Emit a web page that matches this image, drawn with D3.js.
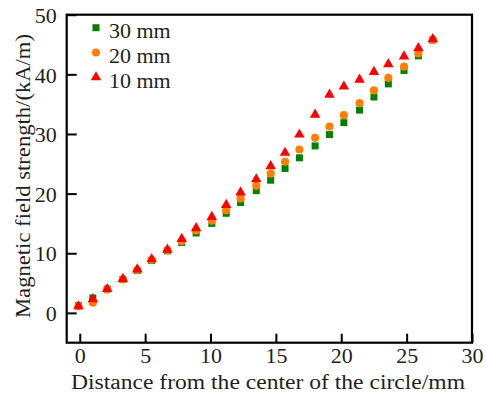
<!DOCTYPE html>
<html><head><meta charset="utf-8">
<script src="https://cdn.jsdelivr.net/npm/d3@7"></script>
<style>body{margin:0;background:#fff}</style>
</head><body>
<svg id="c" width="486" height="395"></svg>
<script>
const distance = [-0.1, 1.0, 2.1, 3.3, 4.4, 5.5, 6.7, 7.8, 8.9, 10.1, 11.2, 12.3, 13.5, 14.6, 15.7, 16.8, 18.0, 19.1, 20.2, 21.4, 22.5, 23.6, 24.8, 25.9, 27.0];
const h30 = [1.2, 2.5, 4.0, 5.6, 7.1, 8.8, 10.4, 11.8, 13.4, 15.0, 16.7, 18.5, 20.5, 22.25, 24.2, 26.0, 28.0, 29.9, 31.9, 34.0, 36.2, 38.4, 40.65, 43.1, 45.75];
const h20 = [1.1, 1.7, 3.9, 5.6, 7.2, 8.9, 10.5, 12.0, 13.8, 15.45, 17.2, 19.2, 21.3, 23.35, 25.35, 27.4, 29.35, 31.25, 33.15, 35.2, 37.3, 39.4, 41.3, 43.5, 45.8];
const h10 = [1.1, 2.3, 4.0, 5.7, 7.3, 9.0, 10.6, 12.4, 14.2, 16.1, 18.1, 20.2, 22.4, 24.6, 26.85, 29.9, 33.25, 36.6, 37.95, 39.1, 40.4, 41.7, 43.0, 44.4, 45.9];
const seriesNames = ["30 mm", "20 mm", "10 mm"];
const xTicks = [0, 5, 10, 15, 20, 25, 30];
const yTicks = [0, 10, 20, 30, 40, 50];
const xTitle = "Distance from the center of the circle/mm";
const yTitle = "Magnetic field strength/(kA/m)";

const FONT = "'Liberation Serif', 'DejaVu Serif', 'Times New Roman', serif";
const INK = "#231f20";
const svg = d3.select("#c");
const L = 66.7, R = 472, T = 14.7, B = 342.7;
const x = d3.scaleLinear().domain([-1, 30]).range([L, R]);
const y = d3.scaleLinear().domain([-5, 50]).range([B, T]);

const series = [
  {name: seriesNames[0], vals: h30, color: "#008000", shape: "square"},
  {name: seriesNames[1], vals: h20, color: "#ff8000", shape: "circle"},
  {name: seriesNames[2], vals: h10, color: "#ff0000", shape: "triangle"}
];
const sym = {
  square: d3.symbol().type(d3.symbolSquare).size(49),
  circle: d3.symbol().type(d3.symbolCircle).size(52),
  triangle: d3.symbol().type(d3.symbolTriangle).size(48)
};

// axes
const xAxis = d3.axisBottom(x).tickValues(xTicks).tickSizeInner(-9).tickSizeOuter(0).tickPadding(4);
const yAxis = d3.axisLeft(y).tickValues(yTicks).tickSizeInner(-10).tickSizeOuter(0).tickPadding(10);
const gx = svg.append("g").attr("transform", `translate(0,${B})`).call(xAxis);
const gy = svg.append("g").attr("transform", `translate(${L},0)`).call(yAxis);
[gx, gy].forEach(g => {
  g.attr("font-family", null).attr("font-size", null);
  g.select(".domain").remove();
  g.selectAll(".tick line").attr("stroke", "#000").attr("stroke-width", 2);
  g.selectAll(".tick text").style("font-family", FONT).style("font-size", "22px").attr("fill", INK);
});
gx.selectAll(".tick text").attr("dy", "0.72em");
gy.selectAll(".tick text").attr("dy", "0.35em");

svg.append("rect").attr("x", L).attr("y", T).attr("width", R - L).attr("height", B - T)
  .attr("fill", "none").attr("stroke", "#000").attr("stroke-width", 2.2);

// points
series.forEach(s => {
  svg.append("g").selectAll("path").data(s.vals).join("path")
    .attr("d", sym[s.shape])
    .attr("transform", (d, i) => `translate(${x(distance[i])},${y(d)})`)
    .attr("fill", s.color);
});

// legend
const lg = svg.append("g");
series.forEach((s, i) => {
  const cy = 27.7 + i * 24.8;
  lg.append("path").attr("d", sym[s.shape]).attr("transform", `translate(96,${cy})`).attr("fill", s.color);
  lg.append("text").attr("x", 109).attr("y", cy + 10.5)
    .style("font-family", FONT).style("font-size", "22px").attr("fill", INK).text(s.name);
});

// titles
svg.append("text").attr("x", 268).attr("y", 389).attr("text-anchor", "middle")
  .style("font-family", FONT).style("font-size", "20px").attr("fill", INK)
  .attr("textLength", 394).attr("lengthAdjust", "spacingAndGlyphs").text(xTitle);
svg.append("text").attr("transform", "translate(30,176) rotate(-90)").attr("text-anchor", "middle")
  .style("font-family", FONT).style("font-size", "20px").attr("fill", INK)
  .attr("textLength", 284).attr("lengthAdjust", "spacingAndGlyphs").text(yTitle);
</script>
</body></html>
